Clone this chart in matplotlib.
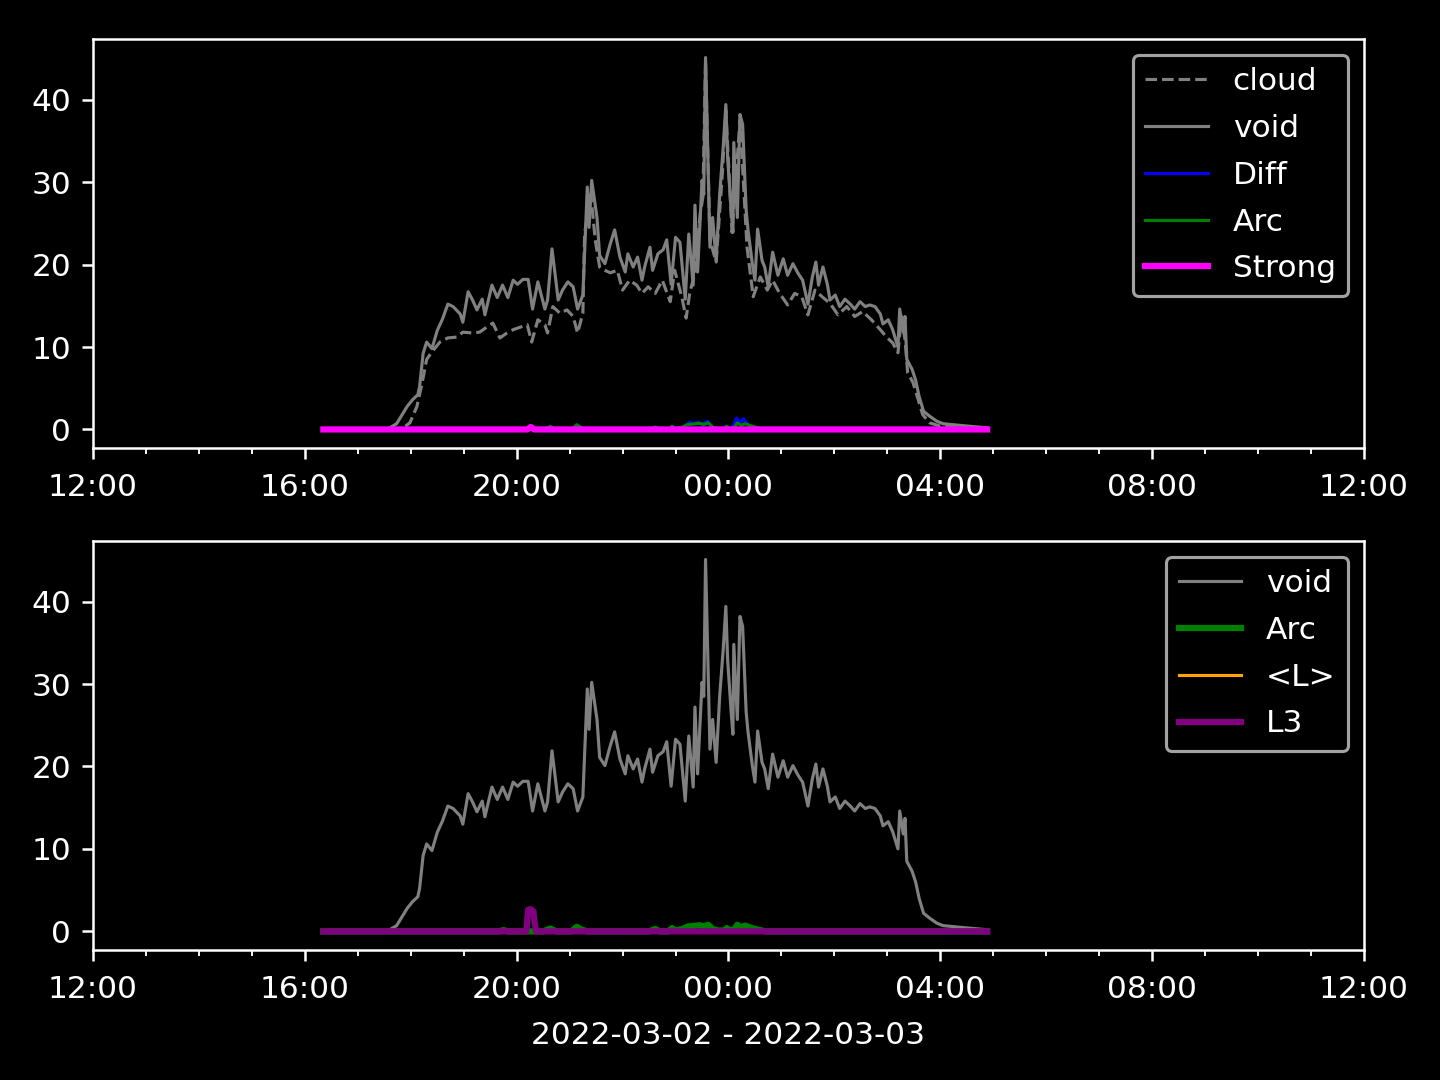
import matplotlib
matplotlib.use("Agg")
import matplotlib.pyplot as plt
import matplotlib.dates as mdates
import pandas as pd

# ---- data (times on 2022-03-02 / 2022-03-03) ----
void_t = ["16:21", "17:33", "17:44", "17:56", "18:02", "18:08", "18:10", "18:14", "18:18", "18:24",
          "18:30", "18:36", "18:42", "18:48", "18:56", "18:59", "19:05", "19:10", "19:15", "19:21",
          "19:24", "19:32", "19:38", "19:44", "19:50", "19:56", "20:01", "20:07", "20:13", "20:18",
          "20:24", "20:32", "20:35", "20:40", "20:43", "20:47", "20:52", "20:58", "21:04", "21:09",
          "21:15", "21:20", "21:22", "21:25", "21:31", "21:34", "21:40", "21:46", "21:51", "21:57",
          "22:03", "22:06", "22:12", "22:17", "22:22", "22:25", "22:31", "22:34", "22:40", "22:46",
          "22:50", "22:55", "23:00", "23:05", "23:11", "23:15", "23:20", "23:22", "23:25", "23:30",
          "23:32", "23:34", "23:39", "23:42", "23:46", "23:50", "23:54", "23:57", "23:59", "00:03",
          "00:05", "00:06", "00:10", "00:13", "00:16", "00:20", "00:22", "00:27", "00:30", "00:33",
          "00:38", "00:41", "00:45", "00:50", "00:56", "01:02", "01:07", "01:13", "01:19", "01:24",
          "01:30", "01:35", "01:39", "01:42", "01:47", "01:52", "01:55", "02:01", "02:06", "02:12",
          "02:18", "02:23", "02:29", "02:35", "02:40", "02:46", "02:52", "02:55", "03:01", "03:06",
          "03:12", "03:14", "03:18", "03:20", "03:22", "03:28", "03:32", "03:36", "03:41", "03:48",
          "03:56", "04:03", "04:22", "04:53"]
void_v = [0.0, 0.0, 0.7, 2.8, 3.6, 4.2, 5.2, 9.2, 10.6, 9.8,
          12.0, 13.4, 15.2, 14.9, 14.0, 13.0, 16.7, 15.7, 14.5, 15.8,
          13.9, 17.5, 16.0, 17.5, 16.0, 18.1, 17.6, 18.2, 18.2, 14.6,
          17.9, 14.6, 15.7, 21.9, 19.3, 15.7, 16.9, 17.9, 17.3, 14.6,
          16.3, 29.4, 24.5, 30.2, 25.7, 21.1, 20.1, 22.5, 24.2, 20.9,
          19.1, 21.3, 19.7, 20.9, 18.1, 19.7, 22.1, 19.3, 21.3, 21.8,
          23.0, 17.6, 23.3, 22.7, 15.8, 23.7, 17.5, 27.2, 19.1, 30.2,
          28.5, 45.1, 22.1, 25.7, 20.5, 28.5, 34.2, 39.4, 33.0, 26.6,
          23.9, 34.8, 25.7, 38.2, 37.0, 26.6, 24.3, 20.1, 18.1, 24.3,
          20.5, 19.7, 17.3, 21.5, 18.7, 20.7, 18.7, 20.1, 18.9, 18.1,
          15.2, 18.5, 20.3, 17.5, 19.7, 17.6, 15.7, 16.3, 14.9, 15.8,
          15.2, 14.6, 15.5, 14.9, 15.1, 14.9, 14.0, 12.8, 13.3, 12.1,
          10.0, 14.6, 11.8, 13.7, 8.5, 7.3, 6.0, 4.0, 2.2, 1.6,
          1.0, 0.7, 0.5, 0.2]

cloud_t = ["16:21", "17:50", "17:59", "18:07", "18:13", "18:18", "18:24", "18:33", "18:42", "18:52",
           "18:59", "19:10", "19:18", "19:26", "19:33", "19:41", "19:49", "19:56", "20:04", "20:12",
           "20:17", "20:24", "20:32", "20:35", "20:41", "20:49", "20:57", "21:04", "21:09", "21:15",
           "21:17", "21:24", "21:29", "21:34", "21:40", "21:46", "21:54", "22:00", "22:08", "22:16",
           "22:22", "22:29", "22:37", "22:45", "22:54", "22:59", "23:07", "23:12", "23:16", "23:22",
           "23:28", "23:31", "23:34", "23:39", "23:46", "23:53", "23:57", "00:04", "00:13", "00:21",
           "00:28", "00:36", "00:44", "00:50", "00:58", "01:07", "01:15", "01:23", "01:30", "01:38",
           "01:46", "01:55", "02:04", "02:14", "02:23", "02:32", "02:42", "02:52", "02:59", "03:06",
           "03:12", "03:16", "03:20", "03:23", "03:29", "03:35", "03:40", "03:48", "04:00", "04:53"]
cloud_v = [0.0, 0.1, 0.8, 2.8, 5.7, 8.5, 9.4, 10.6, 11.1, 11.2,
           11.8, 11.7, 11.8, 12.4, 12.9, 11.1, 11.7, 12.1, 12.4, 12.7,
           10.6, 13.3, 12.7, 11.7, 14.9, 14.1, 14.5, 13.7, 11.7, 14.1,
           23.8, 28.5, 23.0, 19.7, 19.3, 19.0, 19.3, 16.9, 18.1, 17.5,
           16.5, 17.3, 16.5, 18.1, 15.5, 19.3, 16.1, 13.5, 16.5, 19.0,
           26.2, 28.2, 44.7, 23.0, 20.3, 31.0, 38.7, 23.9, 37.5, 22.1,
           16.1, 18.5, 16.9, 18.1, 16.5, 15.1, 16.5, 16.1, 13.9, 16.9,
           16.1, 15.3, 13.9, 14.9, 13.7, 14.3, 13.3, 12.1, 11.2, 10.5,
           9.3, 13.7, 10.9, 6.9, 5.7, 3.6, 1.8, 0.8, 0.4, 0.1]

diff_t = ["16:21", "20:35", "20:38", "20:44", "21:03", "21:08", "21:14", "21:20", "22:30", "22:36",
          "22:42", "23:05", "23:10", "23:16", "23:20", "23:25", "23:30", "23:36", "23:42", "23:50",
          "23:56", "00:00", "00:06", "00:09", "00:13", "00:17", "00:22", "00:28", "00:35", "00:42", "04:53"]
diff_v = [0.0, 0.0, 0.4, 0.0, 0.0, 0.6, 0.2, 0.0, 0.0, 0.2,
          0.0, 0.0, 0.4, 0.9, 0.7, 0.9, 0.6, 1.0, 0.3, 0.0,
          0.3, 0.0, 0.5, 1.4, 0.8, 1.3, 0.6, 0.3, 0.1, 0.0, 0.0]

arc_t = ["16:21", "19:40", "19:45", "19:50", "20:30", "20:38", "20:45", "21:02", "21:08", "21:14",
         "21:20", "22:30", "22:37", "22:42", "22:52", "22:56", "23:00", "23:08", "23:14", "23:20",
         "23:27", "23:32", "23:37", "23:42", "23:48", "23:55", "23:58", "00:02", "00:07", "00:10",
         "00:14", "00:19", "00:24", "00:30", "00:36", "00:42", "04:53"]
arc_v = [0.0, 0.0, 0.15, 0.0, 0.0, 0.35, 0.0, 0.0, 0.55, 0.2,
         0.0, 0.0, 0.3, 0.0, 0.0, 0.4, 0.1, 0.3, 0.6, 0.65,
         0.75, 0.6, 0.8, 0.3, 0.1, 0.1, 0.4, 0.1, 0.3, 0.8,
         0.5, 0.7, 0.5, 0.3, 0.15, 0.0, 0.0]

strong_t = ["16:21", "20:12", "20:16", "20:20", "04:53"]
strong_v = [0.0, 0.0, 0.3, 0.0, 0.0]

meanL_t = ["16:21", "20:11", "20:14", "20:19", "20:22", "04:53"]
meanL_v = [0.0, 0.0, 2.8, 2.5, 0.0, 0.0]

l3_t = ["16:21", "20:11", "20:13", "20:16", "20:19", "20:20", "20:22", "04:53"]
l3_v = [0.0, 0.0, 2.6, 2.7, 2.4, 1.3, 0.0, 0.0]

xlabel = "2022-03-02 - 2022-03-03"


def to_dt(times):
    out = []
    for s in times:
        h = int(s.split(":")[0])
        day = "2022-03-02" if h >= 12 else "2022-03-03"
        out.append(pd.Timestamp(f"{day} {s}"))
    return out


plt.style.use("dark_background")
fig, (ax1, ax2) = plt.subplots(2, 1, figsize=(6.4, 4.8), dpi=225)
fig.subplots_adjust(left=0.0646, right=0.9472, top=0.9639, bottom=0.1204, hspace=0.227)

ax1.plot(to_dt(cloud_t), cloud_v, color="gray", ls="--", lw=1, label="cloud")
ax1.plot(to_dt(void_t), void_v, color="gray", lw=1, label="void")
ax1.plot(to_dt(diff_t), diff_v, color="blue", lw=1, label="Diff")
ax1.plot(to_dt(arc_t), arc_v, color="green", lw=1, label="Arc")
ax1.plot(to_dt(strong_t), strong_v, color="magenta", lw=2, label="Strong")

ax2.plot(to_dt(void_t), void_v, color="gray", lw=1, label="void")
ax2.plot(to_dt(arc_t), arc_v, color="green", lw=2, label="Arc")
ax2.plot(to_dt(meanL_t), meanL_v, color="orange", lw=1, label="<L>")
ax2.plot(to_dt(l3_t), l3_v, color="purple", lw=2, label="L3")

for ax in (ax1, ax2):
    ax.set_xlim(pd.Timestamp("2022-03-02 12:00"), pd.Timestamp("2022-03-03 12:00"))
    ax.xaxis.set_major_locator(mdates.HourLocator(byhour=[0, 4, 8, 12, 16, 20]))
    ax.xaxis.set_minor_locator(mdates.HourLocator())
    ax.xaxis.set_major_formatter(mdates.DateFormatter("%H:%M"))
    ax.tick_params(axis="x", which="major", pad=4.5)
    ax.legend(loc="upper right", labelspacing=0.57)

ax2.set_xlabel(xlabel, labelpad=5.5)
fig.savefig("out.png", dpi=225)
